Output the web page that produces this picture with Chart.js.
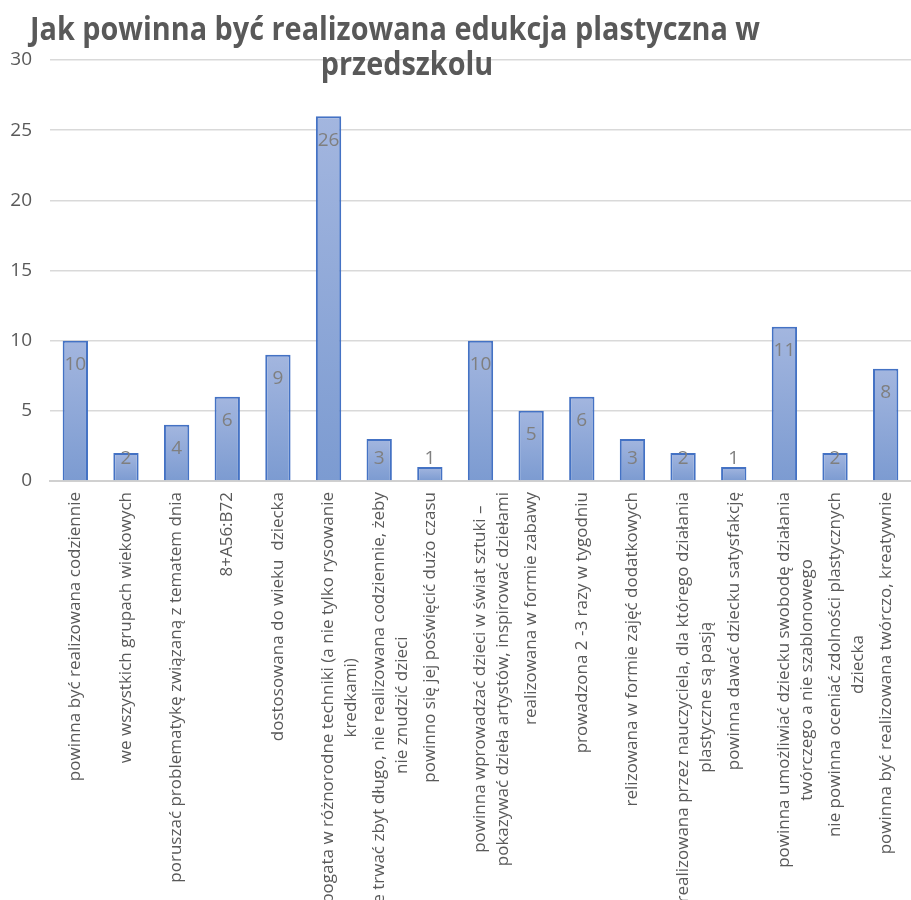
<!DOCTYPE html>
<html>
<head>
<meta charset="utf-8">
<script src="https://cdn.jsdelivr.net/npm/chart.js@4"></script>
<style>
  html, body { margin: 0; padding: 0; background: #fff; }
  #wrap { width: 911px; height: 900px; position: relative; }
</style>
</head>
<body>
<div id="wrap"><canvas id="barChart"></canvas></div>
<script>
var titleLines = ["Jak powinna być realizowana edukcja plastyczna w", "przedszkolu"];

var labels = [
    "powinna być realizowana codziennie",
    "we wszystkich grupach wiekowych",
    "poruszać problematykę związaną z tematem dnia",
    "8+A56:B72",
    "dostosowana do wieku  dziecka",
    ["bogata w różnorodne techniki (a nie tylko rysowanie", "kredkami)"],
    ["nie trwać zbyt długo, nie realizowana codziennie, żeby", "nie znudzić dzieci"],
    "powinno się jej poświęcić dużo czasu",
    ["powinna wprowadzać dzieci w świat sztuki –", "pokazywać dzieła artystów, inspirować dziełami"],
    "realizowana w formie zabawy",
    "prowadzona 2 -3 razy w tygodniu",
    "relizowana w formie zajęć dodatkowych",
    ["realizowana przez nauczyciela, dla którego działania", "plastyczne są pasją"],
    "powinna dawać dziecku satysfakcję",
    ["powinna umożliwiać dziecku swobodę działania", "twórczego a nie szablonowego"],
    ["nie powinna oceniać zdolności plastycznych", "dziecka"],
    "powinna być realizowana twórczo, kreatywnie"
];
var data = [10, 2, 4, 6, 9, 26, 3, 1, 10, 5, 6, 3, 2, 1, 11, 2, 8];

var yMin = 0, yMax = 30, yStep = 5;
var tickFontSize = 17;

// bar fill: light blue at the top of each bar, darker at its base
function barFill(ctx) {
    var chart = ctx.chart;
    if (!chart.chartArea || ctx.raw === undefined) return '#8fa8d8';
    var y = chart.scales.y;
    var top = y.getPixelForValue(ctx.raw);
    var bottom = y.getPixelForValue(0);
    var g = chart.ctx.createLinearGradient(0, top, 0, bottom);
    g.addColorStop(0, '#a3b6df');
    g.addColorStop(1, '#7c9bd1');
    return g;
}

// values written just inside the top of each bar
var valueLabels = {
    id: 'valueLabels',
    afterDatasetsDraw: function (chart) {
        var c = chart.ctx;
        var meta = chart.getDatasetMeta(0);
        c.save();
        c.font = '19px "Open Sans"';
        c.fillStyle = '#7f7f7f';
        c.textAlign = 'center';
        c.textBaseline = 'middle';
        meta.data.forEach(function (bar, i) {
            var y = Math.min(bar.y + 24, bar.base - 22);
            c.fillText(String(data[i]), bar.x, y);
        });
        c.restore();
    }
};

// wrapped category labels: centre the lines on each other (rotated text is right-aligned by default)
var centreWrapped = {
    id: 'centreWrapped',
    beforeDraw: function (chart) {
        var scale = chart.scales.x;
        var items = scale.getLabelItems(chart.chartArea);
        var c = chart.ctx;
        c.save();
        c.font = tickFontSize + 'px "Open Sans"';
        items.forEach(function (item) {
            var o = item.options;
            if (!Array.isArray(item.label) || o._centred) return;
            var w = Math.max.apply(null, item.label.map(function (s) { return c.measureText(s).width; }));
            o.textAlign = 'center';
            o.translation = [o.translation[0], o.translation[1] + w / 2];
            o._centred = true;
        });
        c.restore();
    }
};

// title sits over the top of the plot, as in the original
var chartTitle = {
    id: 'chartTitle',
    afterDraw: function (chart) {
        var c = chart.ctx;
        c.save();
        c.font = 'bold 33px "Open Sans"';
        c.fillStyle = '#595959';
        c.textAlign = 'center';
        c.textBaseline = 'alphabetic';
        var ratio = 730 / c.measureText(titleLines[0]).width;
        c.fillText(titleLines[0], 395, 40, 730);
        c.fillText(titleLines[1], 407, 75, c.measureText(titleLines[1]).width * ratio);
        c.restore();
    }
};

var bar = document.getElementById("barChart").getContext('2d');
var myChart = new Chart(bar, {
    type: 'bar',
    data: {
        labels: labels,
        datasets: [
            {
                data: data,
                backgroundColor: barFill,
                borderColor: '#4472c4',
                borderWidth: 2,
                borderSkipped: 'bottom',
                categoryPercentage: 1,
                barPercentage: 0.5
            }
        ]
    },
    options: {
        responsive: true,
        maintainAspectRatio: false,
        animation: false,
        layout: { padding: { top: 60, left: 0, right: 0, bottom: 0 } },
        plugins: {
            legend: { display: false },
            title: { display: false },
            tooltip: { enabled: false }
        },
        scales: {
            x: {
                grid: { display: false, drawTicks: false },
                border: { color: '#d0d0d0', width: 2 },
                ticks: {
                    autoSkip: false,
                    minRotation: 90,
                    maxRotation: 90,
                    padding: 11,
                    color: '#595959',
                    font: { family: 'Open Sans', size: tickFontSize, lineHeight: 1.35 }
                },
                afterFit: function (scale) {
                    scale.height = 419;
                    scale.paddingLeft = 0;
                    scale.paddingRight = 0;
                }
            },
            y: {
                min: yMin,
                max: yMax,
                grid: { color: '#d9d9d9', lineWidth: 1.5, drawTicks: false },
                border: { display: false },
                ticks: {
                    stepSize: yStep,
                    padding: 18,
                    color: '#595959',
                    font: { family: 'Open Sans', size: 19 }
                },
                afterFit: function (scale) { scale.width = 50; }
            }
        }
    },
    plugins: [centreWrapped, valueLabels, chartTitle]
});
</script>
</body>
</html>
